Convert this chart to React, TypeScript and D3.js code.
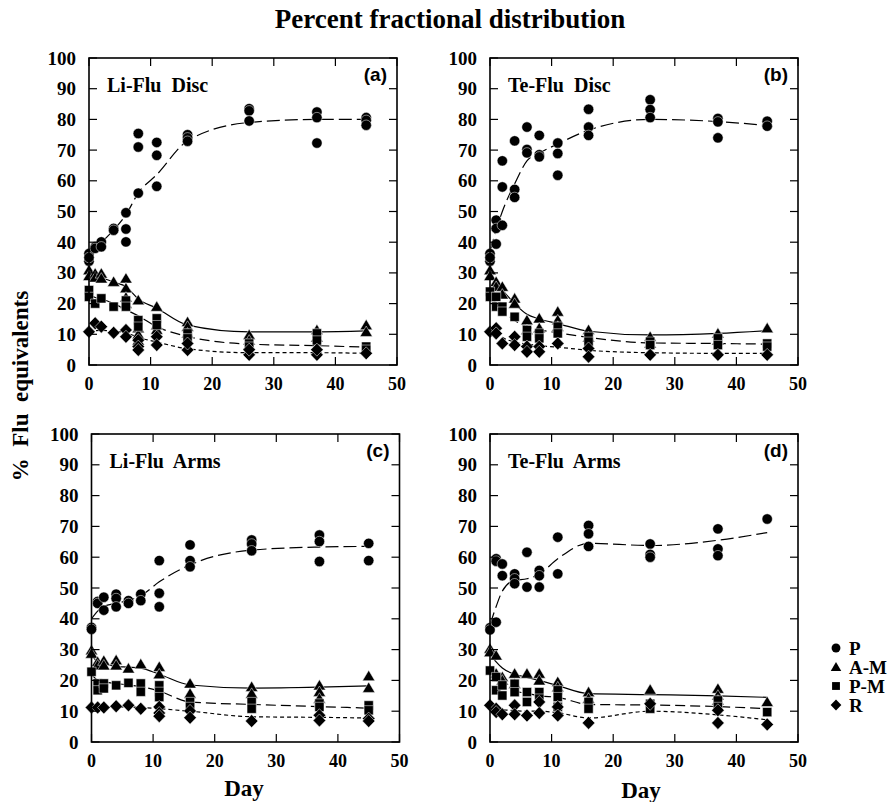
import React from "react";
import * as d3 from "d3";

// sampling days shared by all panels
const days = [0, 1, 2, 4, 6, 8, 11, 16, 26, 37, 45];
const yTicks = [0, 10, 20, 30, 40, 50, 60, 70, 80, 90, 100];
const xTicks = [0, 10, 20, 30, 40, 50];

// (a) Li-Flu Disc : replicate values per day, fitted curve per day
const aP = [[36.3, 33.8, 35], [38.5, 38], [40.1, 38.5], [44.5, 43.9], [49.6, 44.3, 40.1], [75.4, 71, 56], [72.5, 68.3, 58.2], [75, 74, 72.9], [83.5, 82.8, 79.5], [82.4, 80.6, 72.3], [80.6, 79.7, 78.1]];
const aPFit = [36, 38.5, 40, 44, 49, 56, 62, 73, 79, 80, 80];
const aAM = [[30.9, 29], [29.8, 28.5], [29.8, 28.2], [27.1], [28.2, 25, 22, 20], [21.1, 12, 10, 8], [19, 13, 11.5], [14, 12.5, 10.3], [9.8, 8, 6.5], [11.4, 9], [13, 10.8]];
const aAMFit = [30, 29, 28.5, 27, 25.5, 21.5, 18.5, 13, 10.8, 10.8, 11.1];
const aPM = [[24.4, 22.2], [20], [21.7], [19], [21, 19], [14.6, 12.5], [15.2, 13], [10.3, 8.7], [7, 6], [10.3, 8], [6, 5]];
const aPMFit = [23, 22, 21.5, 20, 18, 16, 12.5, 9.3, 6.8, 6.3, 5.8];
const aR = [[10.8], [13.6], [12.5], [10.5], [11.4, 9.2], [8.1, 6, 4.9], [9.2, 6.5], [4.9, 7], [3.3, 5], [3.3, 5], [3.8]];
const aRFit = [11, 11.2, 11.3, 11, 10.5, 9, 7.5, 5.3, 4, 4, 3.8];

// (b) Te-Flu Disc
const bP = [[36.3, 33.8, 35], [47.2, 44.5, 39.4], [66.5, 58, 45.5], [73, 57.2, 54.6], [77.5, 70.2, 69.1], [74.8, 68.5, 67.8], [72.3, 68.9, 61.8], [83.3, 77.5, 74.8], [86.4, 83.2, 80.6], [80.3, 79.2, 74], [79.4, 77.8]];
const bPFit = [37, 44, 50, 59, 66.5, 69, 72, 76.5, 80, 79.3, 78];
const bAM = [[30.9, 29], [27.1, 25.5], [25.5, 23], [21.7, 20], [14.6, 11.4], [15.2, 12], [17.4, 14.6, 12.5], [11.4, 9], [9.2, 7], [10.3, 8], [12]];
const bAMFit = [30, 27, 24.5, 20, 16.5, 15, 13.5, 11, 9.8, 10.3, 11.2];
const bPM = [[23.9, 22.2], [22.2, 19], [19, 17.4], [15.7], [11.4, 9.2], [10.3, 8.7], [12.5, 10.3], [9.2, 7.6], [7.6, 6.5], [8.7, 6.5], [7, 6]];
const bPMFit = [23, 20, 18, 14.5, 12.5, 11.5, 10.5, 9, 7.2, 7, 6.8];
const bR = [[10.8], [12, 10.3], [7], [9.2, 6.5], [6, 4.3], [6, 4.3], [7], [5.4, 2.7], [3.3], [3.3], [3.3]];
const bRFit = [11, 10.5, 9, 7.5, 6.8, 6.3, 5.8, 4.8, 4, 3.8, 3.8];

// (c) Li-Flu Arms
const cP = [[37.2, 36.6], [45.6, 45], [47, 42.8], [48, 46.6, 43.9], [45.9, 45], [48, 45.9], [58.9, 48.3, 43.9], [64, 58.9, 56.9], [65.6, 64.3, 62.1], [67.2, 65.1, 58.6], [64.5, 58.9]];
const cPFit = [40, 42.5, 44, 45, 46, 47.5, 52, 57.5, 62.3, 63.3, 63.5];
const cAM = [[29.8, 28.7], [26, 24.9], [26.4, 24.9], [26.6, 24.9], [23.9], [25.3], [24.4, 22], [19, 15.7], [17.9, 15.7], [18.4, 16.3, 14.1], [21.4, 17.6]];
const cAMFit = [28.5, 26, 25.5, 24.5, 24.3, 24, 22, 18.5, 17.5, 17.8, 18.2];
const cPM = [[22.8], [19, 16.8], [19, 17.4], [18.4], [19.2], [19, 16.3], [18.4, 16.3, 14.6], [13, 11.4], [13, 10.8], [12.5, 11.4], [11.9, 10.3]];
const cPMFit = [22, 20, 19.5, 19, 18.5, 18, 16.5, 13, 12.2, 11.5, 11];
const cR = [[11.2], [11.2], [11.2], [11.6], [11.9], [10.8], [11.4, 9.4, 8.4], [10.1, 7.9], [6.8], [8.7, 7], [7.6, 6.8]];
const cRFit = [11.2, 11.2, 11.2, 11.3, 11.4, 11.2, 10.8, 10, 8.2, 8, 7.8];

// (d) Te-Flu Arms
const dP = [[37.1, 36.4], [59.5, 58.7, 38.9], [57.8, 54], [54.6, 53, 51.4], [61.6, 50.3], [55.7, 54, 50.3], [66.5, 54.6], [70.3, 67.6, 63.5], [64.3, 60.9, 60], [69.2, 62.7, 60.5], [72.4]];
const dPFit = [38, 44, 49, 52.5, 53, 54.5, 59.5, 64.5, 63.8, 65.5, 68];
const dAM = [[30.3, 29.2], [28.1, 22.2], [21.1, 20], [22.2, 18.9], [22.2], [22.2, 20], [19.5, 17.8], [16.2, 14.1], [17], [17.3, 15.1, 13.5], [13]];
const dAMFit = [28.5, 26, 24, 22, 21, 20, 18.3, 15.7, 15.4, 15, 14.5];
const dPM = [[23.2], [21.1, 16.8], [18.4, 15.1], [18.9, 16.2], [16.2, 13], [16.2, 14.1], [16.8, 14.6, 11.4], [13, 10.8], [12.4, 10.8], [13.5, 11.4], [9.7]];
const dPMFit = [23, 20, 18, 16.5, 15.8, 15, 14.5, 12.2, 12, 11.5, 10.8];
const dR = [[11.9], [10.8, 9.7], [9], [11.9, 9], [8.6], [13, 9.4], [11.4, 8.6], [6.2], [12.4], [10.3, 6.2], [5.7]];
const dRFit = [11.5, 11, 10.5, 10.2, 10, 10, 9.5, 7.8, 10, 8.8, 7.2];

const legendNames = ["P", "A-M", "P-M", "R"];

const serif = "'Liberation Serif', 'Times New Roman', serif";
const sans = "'Liberation Sans', Arial, sans-serif";

const shapes: Record<string, string> = {
  P: d3.symbol(d3.symbolCircle, 85)() as string,
  "A-M": "M0,-5.8L6.2,4.6L-6.2,4.6Z",
  "P-M": d3.symbol(d3.symbolSquare, 85)() as string,
  R: "M0,-6.5L6.3,0L0,6.5L-6.3,0Z",
};
const dashes: Record<string, string | undefined> = {
  P: "13,5",
  "A-M": undefined,
  "P-M": "10,5",
  R: "4,3",
};

type Series = { name: string; pts: number[][]; fit: number[] };

function Panel({ left, top, w, h, title, tag, series }: { left: number; top: number; w: number; h: number; title: string; tag: string; series: Series[] }) {
  const x = d3.scaleLinear().domain([0, 50]).range([0, w]);
  const y = d3.scaleLinear().domain([0, 100]).range([h, 0]);
  const line = d3
    .line<number>()
    .x((_, i) => x(days[i]))
    .y((d) => y(d))
    .curve(d3.curveMonotoneX);
  const tk = 8;
  return (
    <g transform={`translate(${left},${top})`}>
      {series.map((s) => (
        <path key={s.name + "f"} d={line(s.fit) as string} fill="none" stroke="#000" strokeWidth={1.2} strokeDasharray={dashes[s.name]} />
      ))}
      {series.map((s) =>
        s.pts.map((vals, i) =>
          vals.map((v, j) => (
            <path key={s.name + i + "-" + j} d={shapes[s.name]} transform={`translate(${x(days[i])},${y(v)})`} fill="#000" stroke="#fff" strokeWidth={0.5} />
          ))
        )
      )}
      <rect x={0} y={0} width={w} height={h} fill="none" stroke="#000" strokeWidth={1.6} />
      {yTicks.map((t) => (
        <g key={"y" + t}>
          <line x1={0} x2={tk} y1={y(t)} y2={y(t)} stroke="#000" strokeWidth={1.2} />
          <line x1={w - tk} x2={w} y1={y(t)} y2={y(t)} stroke="#000" strokeWidth={1.2} />
          <text x={-13} y={y(t) + 6.5} textAnchor="end" fontFamily={serif} fontWeight="bold" fontSize={19}>
            {t}
          </text>
        </g>
      ))}
      {xTicks.map((t) => (
        <g key={"x" + t}>
          <line x1={x(t)} x2={x(t)} y1={h} y2={h - tk} stroke="#000" strokeWidth={1.2} />
          <line x1={x(t)} x2={x(t)} y1={0} y2={tk} stroke="#000" strokeWidth={1.2} />
          <text x={x(t)} y={h + 25} textAnchor="middle" fontFamily={serif} fontWeight="bold" fontSize={18}>
            {t}
          </text>
        </g>
      ))}
      <text x={18} y={34} fontFamily={serif} fontWeight="bold" fontSize={20} style={{ whiteSpace: "pre" }}>
        {title}
      </text>
      <text x={w - 10} y={23} textAnchor="end" fontFamily={sans} fontWeight="bold" fontSize={19}>
        {tag}
      </text>
    </g>
  );
}

export default function App() {
  const mk = (p: number[][][], f: number[][]): Series[] => legendNames.map((n, i) => ({ name: n, pts: p[i], fit: f[i] }));
  return (
    <svg width={893} height={802} style={{ position: "absolute", left: 0, top: 0, background: "#fff" }}>
      <text x={450} y={28} textAnchor="middle" fontFamily={serif} fontWeight="bold" fontSize={27}>
        Percent fractional distribution
      </text>
      <text transform="translate(28,386) rotate(-90)" textAnchor="middle" fontFamily={serif} fontWeight="bold" fontSize={23} style={{ whiteSpace: "pre" }}>
        {"%  Flu  equivalents"}
      </text>
      <Panel left={89} top={58} w={308} h={307} title={"Li-Flu  Disc"} tag="(a)" series={mk([aP, aAM, aPM, aR], [aPFit, aAMFit, aPMFit, aRFit])} />
      <Panel left={490} top={58} w={308} h={307} title={"Te-Flu  Disc"} tag="(b)" series={mk([bP, bAM, bPM, bR], [bPFit, bAMFit, bPMFit, bRFit])} />
      <Panel left={91.5} top={434} w={308} h={308} title={"Li-Flu  Arms"} tag="(c)" series={mk([cP, cAM, cPM, cR], [cPFit, cAMFit, cPMFit, cRFit])} />
      <Panel left={490} top={434} w={308} h={308} title={"Te-Flu  Arms"} tag="(d)" series={mk([dP, dAM, dPM, dR], [dPFit, dAMFit, dPMFit, dRFit])} />
      <text x={244} y={796} textAnchor="middle" fontFamily={serif} fontWeight="bold" fontSize={23}>
        Day
      </text>
      <text x={641} y={798} textAnchor="middle" fontFamily={serif} fontWeight="bold" fontSize={23}>
        Day
      </text>
      {legendNames.map((n, i) => (
        <g key={n} transform={`translate(836,${648 + i * 19})`}>
          <path d={shapes[n]} transform="scale(0.85)" fill="#000" />
          <text x={13} y={7} fontFamily={serif} fontWeight="bold" fontSize={19}>
            {n}
          </text>
        </g>
      ))}
    </svg>
  );
}
